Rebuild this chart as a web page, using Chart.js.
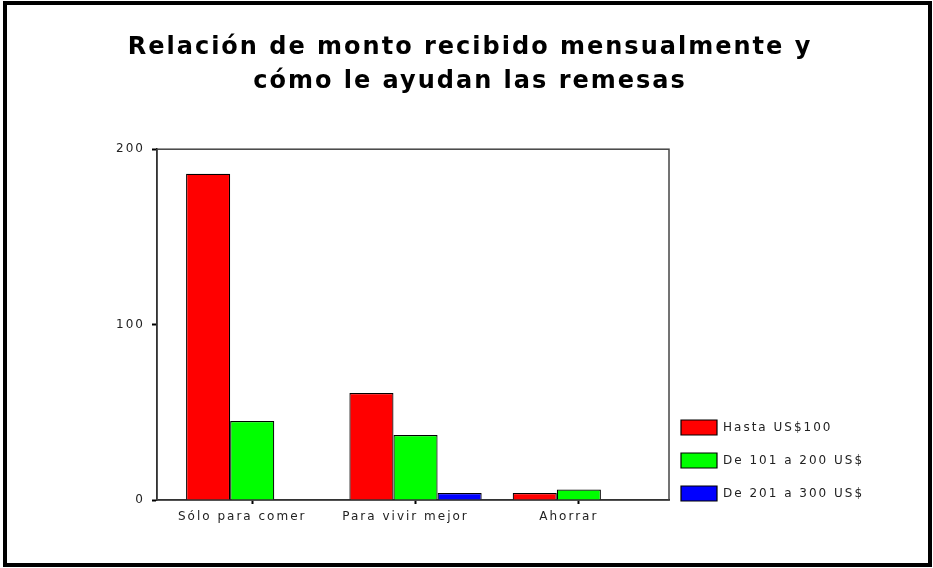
<!DOCTYPE html>
<html>
<head>
<meta charset="utf-8">
<script src="https://cdn.jsdelivr.net/npm/chart.js@4"></script>
<style>
body { margin: 0; background: #fff; }
</style>
</head>
<body>
<canvas id="myChart" width="933" height="568"></canvas>
<script>
// datos
var categories = ['Sólo para comer', 'Para vivir mejor', 'Ahorrar'];
var hasta100 = [186, 61, 4];
var de101a200 = [45, 37, 6];
var de201a300 = [0, 4, 0];
var seriesNames = ['Hasta US$100', 'De 101 a 200 US$', 'De 201 a 300 US$'];
var yTicks = [0, 100, 200];

function points(values) {
    return values.map(function (v, i) { return { x: i, y: v }; });
}

var smallFont = { family: 'DejaVu Sans', size: 12 };

// marco exterior, caja del grafico y espaciado de letras
var frame = {
    id: 'frame',
    beforeUpdate: function (chart) { chart.ctx.letterSpacing = '2px'; },
    afterLayout: function (chart) {
        // leyenda un poco mas a la izquierda y arriba
        chart.legend.left -= 6;
        chart.legend.right -= 6;
        chart.legend.top -= 13;
        chart.legend.bottom -= 13;
    },
    beforeDraw: function (chart) {
        var c = chart.ctx;
        c.letterSpacing = '2px';
        c.save();
        c.fillStyle = '#fff';
        c.fillRect(0, 0, chart.width, chart.height);
        c.strokeStyle = '#000';
        c.lineWidth = 4;
        c.strokeRect(5, 3, 925, 562);
        c.restore();
    },
    beforeDatasetsDraw: function (chart) {
        var a = chart.chartArea;
        var c = chart.ctx;
        c.save();
        c.strokeStyle = '#444';
        c.lineWidth = 1.5;
        c.strokeRect(a.left, a.top, a.right - a.left, a.bottom - a.top);
        c.restore();
    }
};

var ctx = document.getElementById('myChart');
var myChart = new Chart(ctx, {
    type: 'bar',
    data: {
        datasets: [{
            label: seriesNames[0],
            data: points(hasta100),
            backgroundColor: '#ff0000',
            borderColor: '#000',
            borderWidth: 1.2
        }, {
            label: seriesNames[1],
            data: points(de101a200),
            backgroundColor: '#00ff00',
            borderColor: '#000',
            borderWidth: 1.2
        }, {
            label: seriesNames[2],
            data: points(de201a300),
            backgroundColor: '#0000ff',
            borderColor: '#000',
            borderWidth: 1.2
        }]
    },
    options: {
        responsive: false,
        animation: false,
        categoryPercentage: 0.81,
        barPercentage: 1,
        layout: { padding: { top: 10, left: 72, right: 65, bottom: 36 } },
        plugins: {
            title: {
                display: true,
                text: ['Relación de monto recibido mensualmente y', 'cómo le ayudan las remesas'],
                color: '#000',
                font: { family: 'DejaVu Sans', size: 24, weight: 'bold', lineHeight: 1.4 },
                padding: { top: 21, bottom: 51 }
            },
            legend: {
                position: 'right',
                align: 'end',
                labels: {
                    boxWidth: 36,
                    boxHeight: 15,
                    padding: 18,
                    color: '#222',
                    font: smallFont
                }
            },
            tooltip: { enabled: false }
        },
        scales: {
            x: {
                type: 'linear',
                offset: false,
                min: -0.583,
                max: 2.552,
                afterBuildTicks: function (scale) {
                    scale.ticks = categories.map(function (c, i) { return { value: i }; });
                },
                afterFit: function (scale) { scale.height = 32; },
                ticks: {
                    callback: function (v) { return categories[v]; },
                    autoSkip: false,
                    maxRotation: 0,
                    padding: 6,
                    labelOffset: -10,
                    color: '#222',
                    font: smallFont
                },
                grid: { offset: false, drawOnChartArea: false, tickLength: 4, tickWidth: 2, color: '#000' },
                border: { color: '#000', width: 1.5 }
            },
            y: {
                min: 0,
                max: 200,
                afterBuildTicks: function (scale) {
                    scale.ticks = yTicks.map(function (v) { return { value: v }; });
                },
                afterFit: function (scale) { scale.width = 85; },
                ticks: { padding: 7, color: '#222', font: smallFont },
                grid: { drawOnChartArea: false, tickLength: 5, tickWidth: 2, color: '#000' },
                border: { color: '#000', width: 1.5 }
            }
        }
    },
    plugins: [frame]
});
</script>
</body>
</html>
